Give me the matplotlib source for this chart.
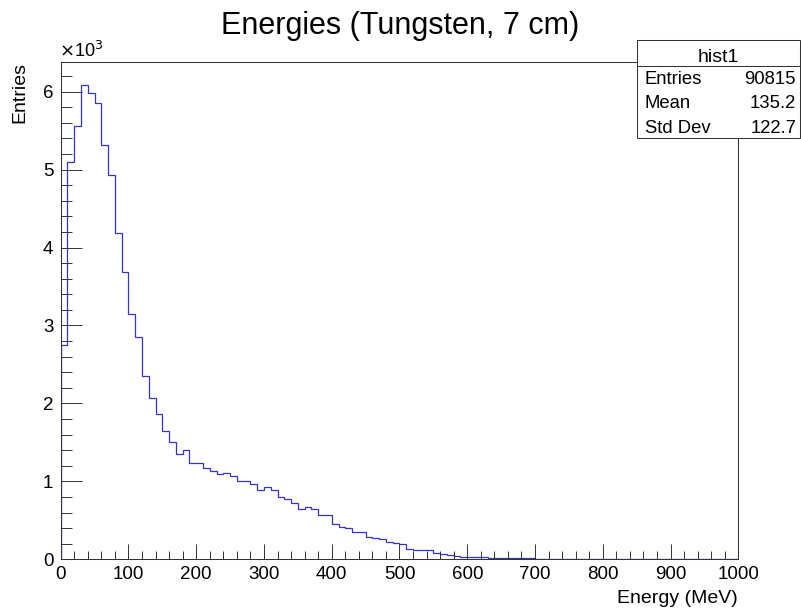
import numpy as np
import matplotlib
matplotlib.use("Agg")
import matplotlib.pyplot as plt
from matplotlib.patches import Rectangle
from matplotlib.lines import Line2D
from matplotlib.ticker import MultipleLocator, FuncFormatter

plt.rcParams["font.family"] = ["Liberation Sans", "DejaVu Sans"]

# histogram contents, 10 MeV bins from 0 to 1000 MeV
counts = [
    2750, 5100, 5560, 6080, 5980, 5850, 5320, 4930, 4190, 3690,
    3150, 2850, 2350, 2070, 1860, 1650, 1500, 1350, 1400, 1240,
    1230, 1170, 1130, 1090, 1110, 1070, 1000, 1010, 960, 885,
    930, 885, 795, 780, 720, 650, 675, 650, 570, 565,
    450, 420, 400, 345, 345, 280, 275, 265, 220, 205,
    190, 130, 115, 115, 120, 80, 70, 60, 40, 35,
    25, 25, 30, 20, 15, 15, 15, 12, 12, 12,
] + [0] * 30
bin_edges = np.linspace(0, 1000, 101)

title = "Energies (Tungsten, 7 cm)"
hist_name = "hist1"
stat_names = ["Entries", "Mean", "Std Dev"]
stat_values = ["90815", "135.2", "122.7"]

W, H = 801, 608
fig = plt.figure(figsize=(W / 100, H / 100), dpi=100)


def fx(px):
    return px / W


def fy(py):
    return 1 - py / H


# axes frame in pixels: x 60.7..738.3, y 61.7..559.3
ax = fig.add_axes([fx(60.7), fy(559.3), fx(738.3) - fx(60.7), fy(61.7) - fy(559.3)])
ax.stairs(counts, bin_edges, baseline=0, color="#3434c4", linewidth=0.9)

ax.set_xlim(0, 1000)
ax.set_ylim(0, 1.05 * max(counts))

ax.xaxis.set_major_locator(MultipleLocator(100))
ax.xaxis.set_minor_locator(MultipleLocator(20))
ax.yaxis.set_major_locator(MultipleLocator(1000))
ax.yaxis.set_minor_locator(MultipleLocator(200))
ax.yaxis.set_major_formatter(FuncFormatter(lambda v, p: f"{v / 1000:g}"))

ax.tick_params(axis="both", which="both", direction="in", colors="#333333",
               width=0.7, labelcolor="black", labelsize=13.5)
ax.tick_params(axis="x", which="major", length=10.8, pad=5)
ax.tick_params(axis="x", which="minor", length=5.5)
ax.tick_params(axis="y", which="major", length=14.9, pad=5.3)
ax.tick_params(axis="y", which="minor", length=7.7)
for s in ax.spines.values():
    s.set_linewidth(0.75)
    s.set_color("#333333")

fig.text(0.5, fy(34), title, ha="center", va="baseline", fontsize=22)
fig.text(fx(20), fy(61.7), "Entries", rotation=90, ha="center", va="top", fontsize=14)
fig.text(fx(738), fy(603), "Energy (MeV)", ha="right", va="baseline", fontsize=14)
fig.text(fx(59), fy(57), r"$\times$10$^{3}$", ha="left", va="baseline", fontsize=13)

# stats box
bx0, bx1, by0, by1 = 637, 800, 40, 137.7
fig.patches.append(Rectangle((fx(bx0), fy(by1)), fx(bx1) - fx(bx0), fy(by0) - fy(by1),
                             transform=fig.transFigure, facecolor="white",
                             edgecolor="#333333", linewidth=0.75, zorder=5))
fig.lines.append(Line2D([fx(bx0), fx(bx1)], [fy(66), fy(66)], transform=fig.transFigure,
                        color="#333333", linewidth=0.75, zorder=6))
fig.text(fx((bx0 + bx1) / 2), fy(62.5), hist_name, ha="center", va="baseline",
         fontsize=14, zorder=7)
for i, (name, val) in enumerate(zip(stat_names, stat_values)):
    yb = fy(84.3 + i * 24.2)
    fig.text(fx(645), yb, name, ha="left", va="baseline", fontsize=13.3, zorder=7)
    fig.text(fx(796), yb, val, ha="right", va="baseline", fontsize=13.3, zorder=7)

fig.savefig("out.png", dpi=100)
